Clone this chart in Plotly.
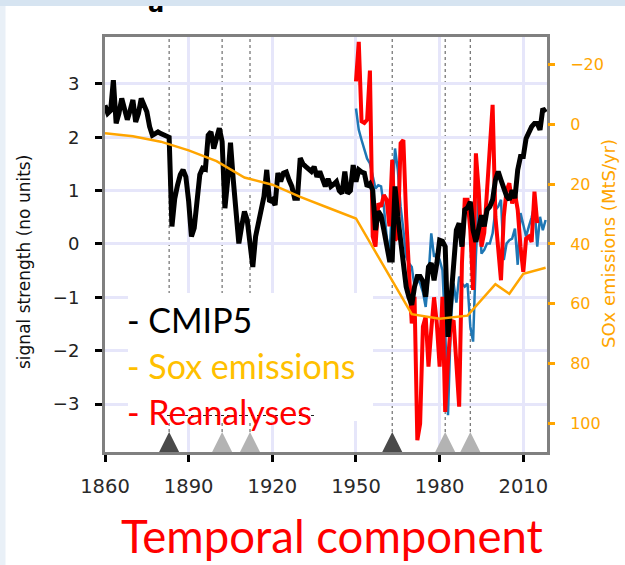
import plotly.graph_objects as go

# ---------------- data ----------------
cmip_years = list(range(1860, 2019))
cmip5 = [
    2.6, 2.45, 2.5, 3.07, 2.26, 2.45, 2.73, 2.5, 2.33, 2.5,
    2.7, 2.29, 2.45, 2.73, 2.6, 2.48, 2.2, 2.04, 2.07, 2.1,
    2.07, 2.05, 2.01, 2.0, 0.33, 0.85, 1.1, 1.3, 1.39, 1.26,
    0.8, 0.14, 0.3, 0.8, 1.3, 1.42, 1.4, 2.04, 2.1, 1.79,
    2.0, 2.17, 1.92, 0.67, 1.2, 1.9, 1.2, 0.5, 0.01, 0.33,
    0.61, 0.45, 0.0, -0.43, 0.14, 0.39, 0.64, 0.89, 1.39, 0.79,
    0.83, 0.73, 1.33, 1.17, 1.33, 1.35, 1.2, 1.08, 0.86, 0.86,
    1.61, 1.5, 1.45, 1.4, 1.36, 1.45, 1.26, 1.36, 1.2, 1.08,
    1.22, 1.08, 1.12, 1.17, 1.0, 0.95, 1.36, 0.95, 1.0, 1.48,
    1.17, 1.39, 1.35, 1.33, 1.08, 1.13, 1.01, 0.26, 0.61, 0.53,
    0.26, 0.01, -0.3, -0.3, 1.08, 0.51, 0.01, -0.49, -0.8, -1.0,
    -1.14, -0.8, -0.61, -0.61, -0.7, -0.99, -0.43, -0.36, -0.68, -0.36,
    0.07, 0.05, -0.05, -1.74, -0.99, -0.43, 0.26, 0.39, -0.05, 0.64,
    0.68, 0.79, 0.26, 0.04, 0.26, 0.54, 0.33, 0.64, 0.7, 0.83,
    1.2, 1.36, 1.2, 1.01, 0.9, 0.83, 1.01, 0.86, 1.39, 1.64,
    1.64, 1.98, 2.1, 2.2, 2.26, 2.26, 2.14, 2.54, 2.47,
]

rean_red_years = list(range(1950, 2016))
rean_red = [
    3.05, 3.79, 2.3, 2.27, 2.33, 3.25, 0.14, -0.05, 0.76, 0.7,
    0.92, 0.83, 0.33, 1.58, 0.07, 0.14, 1.89, 1.95, 0.51, -0.49,
    -1.49, -0.99, -3.68, -3.37, -1.55, -1.36, -2.3, -1.61, -1.0, -1.5,
    -2.3, -0.99, -3.15, -2.2, -1.5, -1.43, -2.2, -3.05, -0.36, 0.83,
    0.83, 0.26, -0.86, 1.7, 1.01, -0.05, 0.21, 1.0, 1.64, 2.61,
    0.51, -0.1, -0.68, 0.51, 1.01, 1.14, 0.76, 0.95, 0.64, -0.05,
    -0.52, 0.1, 0.14, 0.04, 0.98, 0.39,
]

rean_blue_years = list(range(1950, 2019))
rean_blue = [
    2.54, 2.14, 1.95, 1.75, 1.6, 1.51, 1.26, 1.04, 1.1, 1.08,
    0.7, 0.14, -0.24, 0.89, 1.79, 1.39, 0.7, 0.26, -0.24, -0.36,
    -0.43, -0.8, -0.64, -0.74, -0.9, -1.18, -0.61, 0.2, -0.24, -0.18,
    -0.3, -0.49, -1.61, -3.21, -1.49, -0.74, -1.1, -0.61, -0.74, -0.8,
    -0.74, -1.55, -1.83, -0.24, 0.95, -0.18, -0.11, 0.01, 0.01, 0.2,
    0.64, 0.7, 0.83, -0.3, 0.01, 0.07, 0.1, 0.29, -0.39, 0.58,
    0.33, 0.14, 0.33, 0.5, 0.73, -0.05, 0.51, 0.26, 0.45,
]

sox_years = [1860, 1870, 1880, 1890, 1900, 1910, 1920, 1930, 1940, 1950,
             1970, 1980, 1990, 2000, 2005, 2010, 2018]
sox = [3.0, 4.0, 5.8, 8.7, 12.3, 17.8, 20.2, 24.3, 27.9, 31.5,
       63.5, 65.0, 64.0, 53.5, 56.7, 50.0, 48.0]

eruptions_major = [1883, 1963]
eruptions_minor = [1902, 1912, 1982, 1991]

x_ticks = [1860, 1890, 1920, 1950, 1980, 2010]
y_ticks = [-3, -2, -1, 0, 1, 2, 3]
sox_ticks = [-20, 0, 20, 40, 60, 80, 100]

legend_labels = ["- CMIP5", "- Sox emissions", "- Reanalyses"]
legend_colors = ["#000000", "#FFC000", "#FF0000"]

# ---------------- layout geometry (pixels) ----------------
W, H = 625, 565
PL, PR, PT, PB = 105, 547, 37, 452
TRI_Y = -3.525  # apex height of eruption markers (signal units)


def xp(px):
    return (px - PL) / (PR - PL)


def yp(py):
    return (PB - py) / (PB - PT)


fig = go.Figure()
fig.add_trace(go.Scatter(x=rean_blue_years, y=rean_blue, mode="lines",
                         line=dict(color="#1f77b4", width=2.5)))
fig.add_trace(go.Scatter(x=rean_red_years, y=rean_red, mode="lines",
                         line=dict(color="#ff0000", width=4)))
fig.add_trace(go.Scatter(x=cmip_years, y=cmip5, mode="lines",
                         line=dict(color="#000000", width=5)))
fig.add_trace(go.Scatter(x=eruptions_major, y=[TRI_Y] * len(eruptions_major),
                         mode="markers",
                         marker=dict(symbol="arrow-up", size=20, color="#4a4a4a",
                                     line=dict(width=0))))
fig.add_trace(go.Scatter(x=eruptions_minor, y=[TRI_Y] * len(eruptions_minor),
                         mode="markers",
                         marker=dict(symbol="arrow-up", size=20, color="#b3b3b3",
                                     line=dict(width=0))))
fig.add_trace(go.Scatter(x=sox_years, y=sox, mode="lines", yaxis="y2",
                         line=dict(color="#FFA500", width=2.5)))

shapes = []
# left frame strip
shapes.append(dict(type="rect", xref="paper", yref="paper",
                   x0=xp(-2), x1=xp(5.5), y0=yp(H + 2), y1=yp(-2),
                   fillcolor="#E9F0F7", line=dict(width=0), layer="below"))
# eruption guide lines
for yr in eruptions_major + eruptions_minor:
    shapes.append(dict(type="line", xref="x", yref="paper", x0=yr, x1=yr,
                       y0=yp(432), y1=1, layer="below",
                       line=dict(color="#6e6e6e", width=1.2, dash="dot")))
# white box behind legend text
shapes.append(dict(type="rect", xref="paper", yref="paper",
                   x0=xp(128), x1=xp(373), y0=yp(421), y1=yp(293),
                   fillcolor="white", line=dict(width=0), layer="above"))
shapes.append(dict(type="line", xref="paper", yref="paper",
                   x0=xp(167), x1=xp(317), y0=yp(415.5), y1=yp(415.5),
                   layer="above", line=dict(color="#222", width=1.2, dash="3px,3px")))

annotations = []
for i, (lab, col) in enumerate(zip(legend_labels, legend_colors)):
    annotations.append(dict(text=lab, xref="paper", yref="paper",
                            x=xp(125), y=yp(319 + 46 * i), xanchor="left",
                            yanchor="middle", showarrow=False,
                            font=dict(family="Lato", size=34, color=col)))
annotations.append(dict(text="Temporal component", xref="paper", yref="paper",
                        x=xp(332), y=yp(535), xanchor="center", yanchor="middle",
                        showarrow=False,
                        font=dict(family="Lato", size=45.5, color="#FF0000")))
annotations.append(dict(text="signal strength (no units)", xref="paper", yref="paper",
                        x=xp(24), y=yp(262), xanchor="center", yanchor="middle",
                        textangle=-90, showarrow=False,
                        font=dict(family="DejaVu Sans", size=17, color="#111")))
annotations.append(dict(text="SOx emissions (MtS/yr)", xref="paper", yref="paper",
                        x=xp(609), y=yp(244), xanchor="center", yanchor="middle",
                        textangle=-90, showarrow=False,
                        font=dict(family="DejaVu Sans", size=18, color="#FFA500")))
annotations.append(dict(text="<b>a</b>", xref="paper", yref="paper",
                        x=xp(155.5), y=yp(3.6), xanchor="center", yanchor="middle",
                        showarrow=False,
                        font=dict(family="DejaVu Sans", size=24, color="#000")))
# top frame strip (drawn last so that it covers the clipped panel letter)
annotations.append(dict(text=" ", xref="paper", yref="paper",
                        x=xp(W / 2), y=yp(2.75), xanchor="center", yanchor="middle",
                        width=W + 10, height=6, bgcolor="#D6E4F1", borderpad=0,
                        borderwidth=0, showarrow=False, font=dict(size=1)))

fig.update_layout(
    width=W, height=H,
    margin=dict(l=PL, r=W - PR, t=PT, b=H - PB, pad=0),
    paper_bgcolor="white", plot_bgcolor="white", showlegend=False,
    xaxis=dict(range=[1860, 2018.5], tickvals=x_ticks, showgrid=True,
               gridcolor="#E6E6FA", gridwidth=3, zeroline=False,
               showline=True, linecolor="#808080", linewidth=3, mirror=True,
               ticks="outside", ticklen=7, tickwidth=3, tickcolor="#000",
               tickfont=dict(family="DejaVu Sans", size=19.5, color="#2a2a2a"),
               ticklabelstandoff=8),
    yaxis=dict(range=[-3.9, 3.881], tickvals=y_ticks, showgrid=True,
               gridcolor="#E6E6FA", gridwidth=3, zeroline=False,
               showline=True, linecolor="#808080", linewidth=3, mirror=True,
               ticks="outside", ticklen=7, tickwidth=3, tickcolor="#000",
               tickfont=dict(family="DejaVu Sans", size=18, color="#222"),
               ticklabelstandoff=12),
    yaxis2=dict(overlaying="y", side="right", range=[109.6, -29.2],
                tickvals=sox_ticks, showgrid=False, zeroline=False,
                showline=False, ticks="outside", ticklen=7, tickwidth=3,
                tickcolor="#FFA500",
                tickfont=dict(family="DejaVu Sans", size=16, color="#FFA500"),
                ticklabelstandoff=12),
    shapes=shapes, annotations=annotations,
)

fig.write_html("out.html")
